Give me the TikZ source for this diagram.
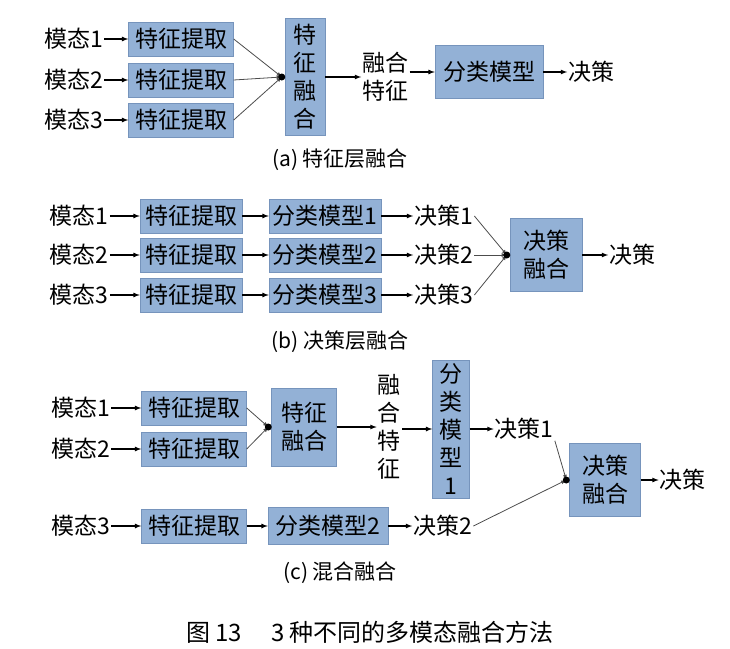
\documentclass[tikz,border=0pt]{standalone}
\usepackage{fontspec}
\setmainfont{Noto Sans CJK SC}
\usetikzlibrary{positioning, arrows, calc}
\definecolor{boxcolor}{RGB}{147,177,214}
\definecolor{edgecolor}{RGB}{118,148,188}

\begin{document}
\begin{tikzpicture}[
    x=1pt, y=-1pt,
    box/.style={rectangle, draw=edgecolor, fill=boxcolor, inner sep=0pt, align=center, font=\fontsize{23}{28}\selectfont},
    fbox/.style={box, minimum width=105pt, minimum height=34pt},
    lbl/.style={inner sep=1pt, align=center, font=\fontsize{23}{28}\selectfont},
    captext/.style={font=\fontsize{21}{26}\selectfont},
    arrow/.style={->, >=latex, line width=1.2pt},
    junc/.style={->, >=latex, line width=0.8pt, black!70},
    dot/.style={circle, fill=black, inner sep=0pt, minimum size=7pt},
    node distance=24pt
]
    \useasboundingbox (0,0) rectangle (730,648);

    % (a) feature level fusion
    \node[fbox] (fa1) at (181,39) {特征提取};
    \node[fbox] (fa2) at (181,80) {特征提取};
    \node[fbox] (fa3) at (181,120) {特征提取};
    \node[lbl, left=of fa1] (ma1) {模态1};
    \node[lbl, left=of fa2] (ma2) {模态2};
    \node[lbl, left=of fa3] (ma3) {模态3};
    \node[box, minimum width=40pt, minimum height=117pt] (ffa) at (305,77) {特\\征\\融\\合};
    \coordinate (ja) at ($(ffa.west)+(-3,0)$);
    \node[lbl, right=36pt of ffa] (feata) {融合\\特征};
    \node[box, minimum width=108pt, minimum height=53pt] (clsa) at (489,72) {分类模型};
    \node[lbl, right=of clsa] (deca) {决策};
    \node[captext] (capa) at (340,160) {(a) 特征层融合};

    \draw[arrow] (ma1) -- (fa1);
    \draw[arrow] (ma2) -- (fa2);
    \draw[arrow] (ma3) -- (fa3);
    \draw[junc] (fa1.east) -- (ja);
    \draw[junc] (fa2.east) -- (ja);
    \draw[junc] (fa3.east) -- (ja);
    \node[dot] at (ja) {};
    \draw[arrow] (ffa.east) -- (ffa.east -| feata.west);
    \draw[arrow] (feata.east |- clsa.west) -- (clsa.west);
    \draw[arrow] (clsa) -- (deca);

    % (b) decision level fusion
    \node[fbox, minimum width=102pt] (fb1) at (191,216) {特征提取};
    \node[fbox, minimum width=102pt] (fb2) at (191,255) {特征提取};
    \node[fbox, minimum width=102pt] (fb3) at (191,295) {特征提取};
    \node[lbl, left=30pt of fb1] (mb1) {模态1};
    \node[lbl, left=30pt of fb2] (mb2) {模态2};
    \node[lbl, left=30pt of fb3] (mb3) {模态3};
    \node[fbox, minimum width=112pt] (cb1) at (325,216) {分类模型1};
    \node[fbox, minimum width=112pt] (cb2) at (325,255) {分类模型2};
    \node[fbox, minimum width=112pt] (cb3) at (325,295) {分类模型3};
    \node[lbl, right=32pt of cb1] (db1) {决策1};
    \node[lbl, right=32pt of cb2] (db2) {决策2};
    \node[lbl, right=32pt of cb3] (db3) {决策3};
    \node[box, minimum width=72pt, minimum height=73pt] (dfb) at (546,255) {决策\\融合};
    \coordinate (jb) at ($(dfb.west)+(-3,0)$);
    \node[lbl, right=26pt of dfb] (decb) {决策};
    \node[captext] (capb) at (340,342) {(b) 决策层融合};

    \foreach \i in {1,2,3} {
        \draw[arrow] (mb\i) -- (fb\i);
        \draw[arrow] (fb\i) -- (cb\i);
        \draw[arrow] (cb\i) -- (db\i);
        \draw[junc] (db\i.east) -- (jb);
    }
    \node[dot] at (jb) {};
    \draw[arrow] (dfb) -- (decb);

    % (c) hybrid fusion
    \node[fbox] (fc1) at (194,408) {特征提取};
    \node[fbox] (fc2) at (194,449) {特征提取};
    \node[fbox] (fc3) at (194,526) {特征提取};
    \node[lbl, left=30pt of fc1] (mc1) {模态1};
    \node[lbl, left=30pt of fc2] (mc2) {模态2};
    \node[lbl, left=30pt of fc3] (mc3) {模态3};
    \node[box, minimum width=65pt, minimum height=78pt] (ffc) at (304,427) {特征\\融合};
    \coordinate (jc) at ($(ffc.west)+(-3,0)$);
    \node[lbl, right=40pt of ffc] (featc) {融\\合\\特\\征};
    \node[box, minimum width=37pt, minimum height=138pt] (clsc1) at (451,429) {分\\类\\模\\型\\1};
    \node[lbl, right=of clsc1] (dc1) {决策1};
    \node[box, minimum width=120pt, minimum height=37pt] (cc2) at (328,526) {分类模型2};
    \node[lbl, right=of cc2] (dc2) {决策2};
    \node[box, minimum width=71pt, minimum height=73pt] (dfc) at (605,480) {决策\\融合};
    \coordinate (jd) at ($(dfc.west)+(-3,0)$);
    \node[lbl, right=18pt of dfc] (decc) {决策};
    \node[captext] (capc) at (340,573) {(c) 混合融合};

    \draw[arrow] (mc1) -- (fc1);
    \draw[arrow] (mc2) -- (fc2);
    \draw[arrow] (mc3) -- (fc3);
    \draw[junc] (fc1.east) -- (jc);
    \draw[junc] (fc2.east) -- (jc);
    \node[dot] at (jc) {};
    \draw[arrow] (ffc.east) -- (ffc.east -| featc.west);
    \draw[arrow] (featc.east |- clsc1.west) -- (clsc1.west);
    \draw[arrow] (clsc1.east |- dc1.west) -- (dc1.west);
    \draw[arrow] (fc3) -- (cc2);
    \draw[arrow] (cc2) -- (dc2);
    \draw[junc] (dc1.south east) -- (jd);
    \draw[junc] (dc2.east) -- (jd);
    \node[dot] at (jd) {};
    \draw[arrow] (dfc) -- (decc);

    % figure caption
    \node[captext, font=\fontsize{24}{28}\selectfont] (fig) at (370,632) {图 13\hspace{1.2em}3 种不同的多模态融合方法};

\end{tikzpicture}
\end{document}
